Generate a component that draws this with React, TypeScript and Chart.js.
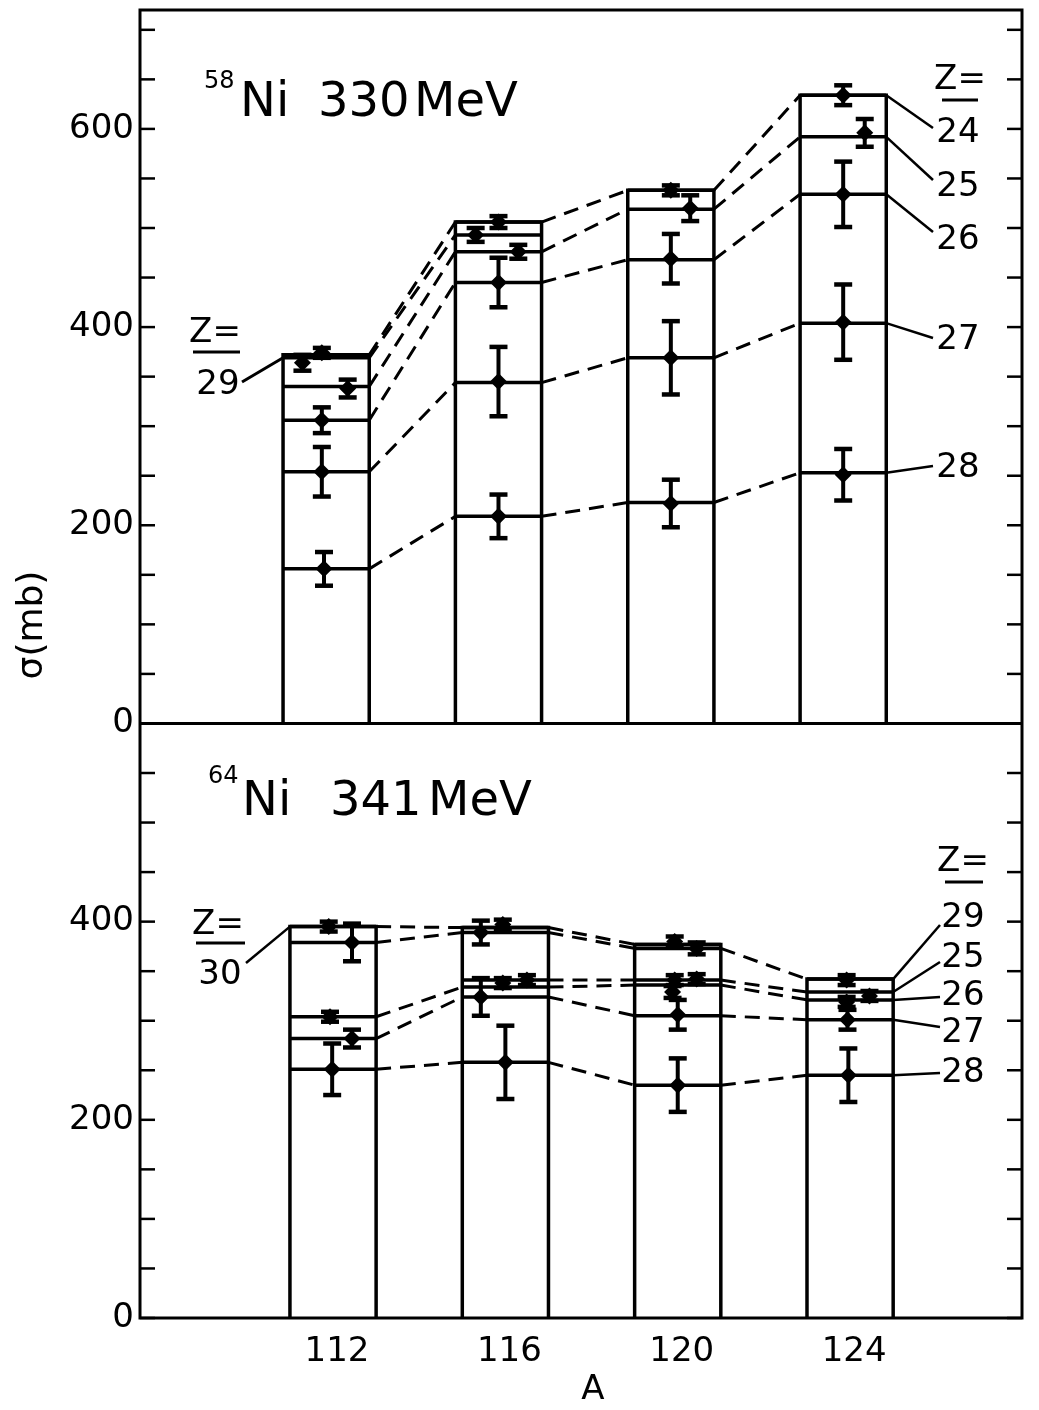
import React, { useEffect, useRef } from 'react';
import { Chart, registerables } from 'chart.js';

Chart.register(...registerables);

const FONT = '"DejaVu Sans", "Liberation Sans", sans-serif';

// ---- axes ----
const A_VALUES = [112, 116, 120, 124];
const X_TICK_LABELS = ['112', '116', '120', '124'];
const TOP_Y_TICKS = [0, 50, 100, 150, 200, 250, 300, 350, 400, 450, 500, 550, 600, 650, 700];
const TOP_Y_LABELS = [0, 200, 400, 600];
const BOT_Y_TICKS = [0, 50, 100, 150, 200, 250, 300, 350, 400, 450, 500, 550];
const BOT_Y_LABELS = [0, 200, 400];

// ---- 58Ni 330 MeV : level sigma (mb) of each Z at A = 112, 116, 120, 124 ----
const TOP_Z24 = [372, 506, 538, 634];
const TOP_Z29 = [369, 493, null, null];
const TOP_Z25 = [340, 476, 519, 592];
const TOP_Z26 = [306, 445, 468, 534];
const TOP_Z27 = [254, 344, 369, 404];
const TOP_Z28 = [156, 209, 223, 253];

// measured points (A position, sigma, error)
const TOP_PT_A = [111.45, 111.9, 112.5, 111.9, 111.9, 111.95, 116, 115.47, 116.46, 116, 116, 116, 120, 120.45, 120, 120, 120, 124, 124.5, 124, 124, 124];
const TOP_PT_SIGMA = [364, 374, 338, 306, 254, 156, 506, 493, 476, 445, 345, 209, 538, 520, 469, 369, 222, 634, 596, 534, 405, 251];
const TOP_PT_ERR = [8, 5, 9, 13, 25, 17, 6, 7, 7, 25, 35, 22, 5, 13, 25, 37, 24, 10, 14, 33, 38, 26];

// ---- 64Ni 341 MeV ----
const BOT_Z30 = [395, 394, 377, null];
const BOT_Z29 = [379, 389, 373, 342];
const BOT_Z25 = [null, 341, 341, 329];
const BOT_Z26 = [304, 334, 336, 321];
const BOT_Z27 = [282, 324, 305, 301];
const BOT_Z28 = [251, 258, 235, 245];

const BOT_PT_A = [111.9, 112.44, 111.93, 112.44, 111.98, 115.94, 115.43, 115.94, 116.5, 115.43, 116, 119.93, 120.44, 119.93, 120.44, 119.88, 120, 120, 123.92, 124.45, 123.92, 123.94, 123.96];
const BOT_PT_SIGMA = [395, 379, 304, 282, 251, 397, 389, 338, 341, 324, 258, 380, 373, 341, 342, 329, 306, 235, 341, 325, 319, 301, 245];
const BOT_PT_ERR = [5, 19, 5, 9, 26, 5, 12, 5, 5, 19, 37, 5, 6, 5, 5, 6, 15, 27, 5, 5, 5, 10, 27];

const TOP_LEVELS = [TOP_Z24, TOP_Z29, TOP_Z25, TOP_Z26, TOP_Z27, TOP_Z28];
const BOT_LEVELS = [BOT_Z30, BOT_Z29, BOT_Z25, BOT_Z26, BOT_Z27, BOT_Z28];

const BOX_HALF = 1; // half width of each A box, in mass units

function levelPoints(levels: (number | null)[]) {
  const pts: { x: number; y: number }[] = [];
  levels.forEach((v, i) => {
    if (v == null) return;
    pts.push({ x: A_VALUES[i] - BOX_HALF, y: v }, { x: A_VALUES[i] + BOX_HALF, y: v });
  });
  return pts;
}

function boxPoints(all: (number | null)[][], i: number) {
  const vals = all.map((l) => l[i]).filter((v) => v != null) as number[];
  const top = Math.max(...vals);
  const a = A_VALUES[i];
  return [
    { x: a - BOX_HALF, y: 0 },
    { x: a - BOX_HALF, y: top },
    { x: a + BOX_HALF, y: top },
    { x: a + BOX_HALF, y: 0 },
  ];
}

function buildDatasets() {
  const ds: any[] = [];
  const panels = [
    { levels: TOP_LEVELS, xa: 'xTop', ya: 'yTop', pa: TOP_PT_A, ps: TOP_PT_SIGMA, pe: TOP_PT_ERR },
    { levels: BOT_LEVELS, xa: 'x', ya: 'yBot', pa: BOT_PT_A, ps: BOT_PT_SIGMA, pe: BOT_PT_ERR },
  ];
  for (const p of panels) {
    A_VALUES.forEach((_, i) => {
      ds.push({
        data: boxPoints(p.levels, i),
        xAxisID: p.xa,
        yAxisID: p.ya,
        showLine: true,
        borderColor: '#000',
        borderWidth: 3.5,
        borderJoinStyle: 'miter',
        pointRadius: 0,
        tension: 0,
        fill: false,
      });
    });
    for (const lv of p.levels) {
      ds.push({
        data: levelPoints(lv),
        xAxisID: p.xa,
        yAxisID: p.ya,
        showLine: true,
        borderColor: '#000',
        borderWidth: 3.5,
        pointRadius: 0,
        tension: 0,
        fill: false,
        segment: {
          borderDash: (c: any) => (c.p0DataIndex % 2 === 1 ? [15, 9] : undefined),
          borderWidth: (c: any) => (c.p0DataIndex % 2 === 1 ? 3 : 3.5),
        },
      });
    }
    ds.push({
      data: p.pa.map((a, i) => ({ x: a, y: p.ps[i] })),
      errs: p.pe,
      xAxisID: p.xa,
      yAxisID: p.ya,
      showLine: false,
      pointStyle: 'rectRot',
      pointRadius: 8.5,
      backgroundColor: '#000',
      borderColor: '#000',
      borderWidth: 0,
    });
  }
  return ds;
}

function seg(ctx: CanvasRenderingContext2D, x1: number, y1: number, x2: number, y2: number) {
  ctx.beginPath();
  ctx.moveTo(x1, y1);
  ctx.lineTo(x2, y2);
  ctx.stroke();
}

const figurePlugin = {
  id: 'figure',
  beforeDatasetsDraw(chart: any) {
    const ctx: CanvasRenderingContext2D = chart.ctx;
    const { left, right, top, bottom } = chart.chartArea;
    const yT = chart.scales.yTop;
    const yB = chart.scales.yBot;
    ctx.save();
    ctx.strokeStyle = '#000';
    ctx.lineWidth = 3;
    ctx.strokeRect(left, top, right - left, bottom - top);
    const mid = yT.getPixelForValue(0);
    seg(ctx, left, mid, right, mid);
    ctx.lineWidth = 2.5;
    const sets: [any, number[]][] = [
      [yT, TOP_Y_TICKS],
      [yB, BOT_Y_TICKS],
    ];
    for (const [sc, vals] of sets) {
      for (const v of vals) {
        const y = sc.getPixelForValue(v);
        seg(ctx, left, y, left + 15, y);
        seg(ctx, right - 15, y, right, y);
      }
    }
    ctx.restore();
  },
  afterDatasetsDraw(chart: any) {
    const ctx: CanvasRenderingContext2D = chart.ctx;
    ctx.save();
    ctx.strokeStyle = '#000';
    chart.data.datasets.forEach((ds: any, i: number) => {
      if (!ds.errs) return;
      const meta = chart.getDatasetMeta(i);
      const ys = chart.scales[ds.yAxisID];
      meta.data.forEach((el: any, j: number) => {
        const v = ds.data[j].y;
        const e = ds.errs[j];
        const yHi = ys.getPixelForValue(v + e);
        const yLo = ys.getPixelForValue(v - e);
        ctx.lineWidth = 4;
        seg(ctx, el.x, yHi, el.x, yLo);
        ctx.lineWidth = 4.5;
        seg(ctx, el.x - 9, yHi, el.x + 9, yHi);
        seg(ctx, el.x - 9, yLo, el.x + 9, yLo);
      });
    });
    ctx.restore();
  },
  afterDraw(chart: any) {
    const ctx: CanvasRenderingContext2D = chart.ctx;
    const xT = chart.scales.xTop;
    const xB = chart.scales.x;
    const yT = chart.scales.yTop;
    const yB = chart.scales.yBot;
    ctx.save();
    ctx.fillStyle = '#000';
    ctx.strokeStyle = '#000';
    ctx.textBaseline = 'alphabetic';

    // titles
    ctx.textAlign = 'left';
    ctx.font = `24px ${FONT}`;
    ctx.fillText('58', 204, 88);
    ctx.fillText('64', 208, 783);
    ctx.font = `48px ${FONT}`;
    ctx.fillText('Ni', 240, 116);
    ctx.fillText('330', 318, 116);
    ctx.fillText('MeV', 414, 116);
    ctx.fillText('Ni', 242, 815);
    ctx.fillText('341', 330, 815);
    ctx.fillText('MeV', 428, 815);

    // axis titles
    ctx.textAlign = 'center';
    ctx.textBaseline = 'middle';
    ctx.font = `36px ${FONT}`;
    ctx.save();
    ctx.translate(33, 625);
    ctx.rotate(-Math.PI / 2);
    ctx.fillText('σ(mb)', 0, 0);
    ctx.restore();
    ctx.font = `34px ${FONT}`;
    ctx.fillText('A', 593, 1390);

    // Z labels
    const zHead = (cx: number, cy: number, x1: number, x2: number, uy: number) => {
      ctx.font = `34px ${FONT}`;
      ctx.fillText('Z=', cx, cy);
      ctx.lineWidth = 3;
      seg(ctx, x1, uy, x2, uy);
    };
    ctx.font = `34px ${FONT}`;
    ctx.lineWidth = 2.5;

    // top panel
    zHead(215, 333, 193, 240, 352);
    ctx.fillText('29', 218, 385);
    seg(ctx, 242, 382, xT.getPixelForValue(A_VALUES[0] - BOX_HALF), yT.getPixelForValue(TOP_Z29[0] as number));
    zHead(960, 80, 942, 978, 100);
    const topRight: [string, number[], number, number][] = [
      ['24', TOP_Z24, 133, 128],
      ['25', TOP_Z25, 187, 180],
      ['26', TOP_Z26, 240, 232],
      ['27', TOP_Z27, 340, 338],
      ['28', TOP_Z28, 468, 466],
    ];
    const lastT = A_VALUES[3] + BOX_HALF;
    for (const [t, lv, ty, ly] of topRight) {
      ctx.font = `34px ${FONT}`;
      ctx.fillText(t, 958, ty);
      ctx.lineWidth = 2.5;
      seg(ctx, xT.getPixelForValue(lastT), yT.getPixelForValue(lv[3]), 933, ly);
    }

    // bottom panel
    zHead(218, 925, 196, 245, 943);
    ctx.fillText('30', 220, 975);
    ctx.lineWidth = 2.5;
    seg(ctx, 246, 963, xB.getPixelForValue(A_VALUES[0] - BOX_HALF), yB.getPixelForValue(BOT_Z30[0] as number));
    zHead(963, 862, 945, 983, 882);
    const botRight: [string, (number | null)[], number, number][] = [
      ['29', BOT_Z29, 918, 925],
      ['25', BOT_Z25, 958, 962],
      ['26', BOT_Z26, 996, 997],
      ['27', BOT_Z27, 1033, 1027],
      ['28', BOT_Z28, 1073, 1073],
    ];
    for (const [t, lv, ty, ly] of botRight) {
      ctx.font = `34px ${FONT}`;
      ctx.fillText(t, 963, ty);
      ctx.lineWidth = 2.5;
      seg(ctx, xB.getPixelForValue(lastT), yB.getPixelForValue(lv[3] as number), 940, ly);
    }
    ctx.restore();
  },
};

export default function App() {
  const ref = useRef<HTMLCanvasElement | null>(null);
  useEffect(() => {
    const canvas = ref.current;
    if (!canvas) return;
    const yCommon = (ticks: number[], labels: number[], max: number) => ({
      type: 'linear' as const,
      position: 'left' as const,
      stack: 'panels',
      min: 0,
      max,
      grid: { display: false, drawTicks: false },
      border: { display: false },
      afterBuildTicks: (s: any) => {
        s.ticks = ticks.map((v) => ({ value: v }));
      },
      afterFit: (s: any) => {
        s.width = 140;
        s.paddingTop = 0;
        s.paddingBottom = 0;
      },
      ticks: {
        autoSkip: false,
        padding: 6,
        color: '#000',
        font: { family: FONT, size: 34 },
        callback: (v: any) => (labels.includes(Number(v)) ? String(v) : ''),
      },
    });
    const chart = new Chart(canvas, {
      type: 'scatter',
      data: { datasets: buildDatasets() },
      options: {
        animation: false,
        responsive: false,
        maintainAspectRatio: false,
        events: [],
        layout: { padding: { left: 0, top: 10, right: 17, bottom: 0 } },
        plugins: { legend: { display: false }, tooltip: { enabled: false } },
        scales: {
          x: {
            type: 'linear',
            position: 'bottom',
            min: 107.52,
            max: 127.99,
            grid: { display: false, drawTicks: false },
            border: { display: false },
            afterBuildTicks: (s: any) => {
              s.ticks = A_VALUES.map((v) => ({ value: v }));
            },
            afterFit: (s: any) => {
              s.height = 92;
              s.paddingLeft = 0;
              s.paddingRight = 0;
            },
            ticks: {
              autoSkip: false,
              maxRotation: 0,
              padding: 14,
              labelOffset: 4,
              color: '#000',
              font: { family: FONT, size: 34 },
              callback: (v: any) => {
                const i = A_VALUES.indexOf(Number(v));
                return i >= 0 ? X_TICK_LABELS[i] : '';
              },
            },
          },
          xTop: {
            type: 'linear',
            display: false,
            position: 'bottom',
            min: 107.68,
            max: 128.15,
          },
          yTop: { ...yCommon(TOP_Y_TICKS, TOP_Y_LABELS, 720), stackWeight: 720, weight: 1 },
          yBot: { ...yCommon(BOT_Y_TICKS, BOT_Y_LABELS, 600), stackWeight: 600, weight: 0 },
        } as any,
      },
      plugins: [figurePlugin as any],
    });
    return () => chart.destroy();
  }, []);
  return (
    <div style={{ position: 'absolute', left: 0, top: 0, width: 1039, height: 1410, background: '#fff' }}>
      <canvas ref={ref} width={1039} height={1410} style={{ width: 1039, height: 1410, display: 'block' }} />
    </div>
  );
}
